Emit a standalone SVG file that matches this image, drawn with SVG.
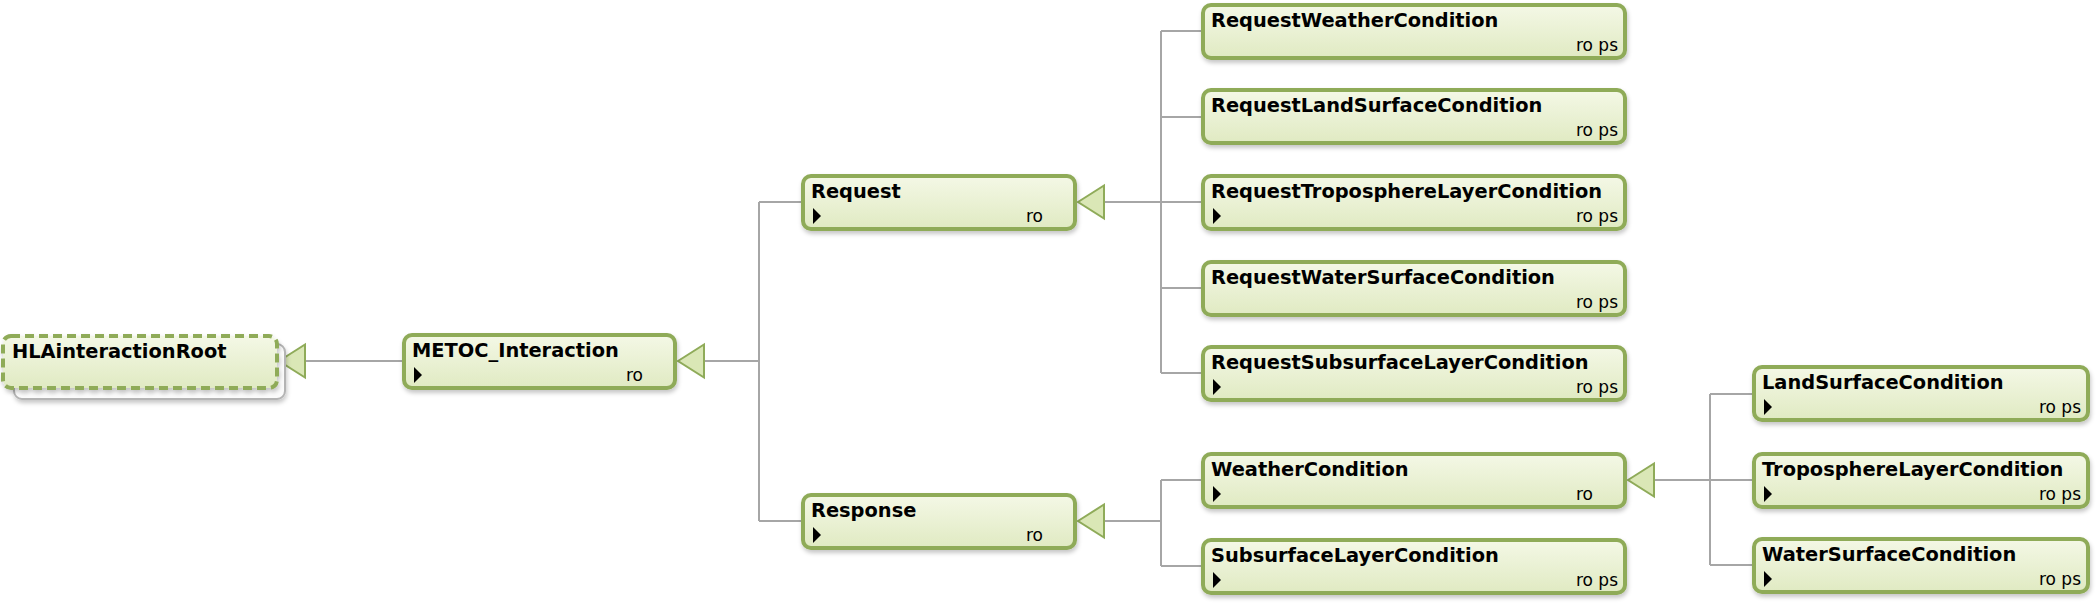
<svg xmlns="http://www.w3.org/2000/svg" width="2100" height="606" viewBox="0 0 2100 606">
<defs>
<linearGradient id="g" x1="0" y1="0" x2="0" y2="1">
<stop offset="0" stop-color="#f4f8e6"/>
<stop offset="1" stop-color="#e0eac2"/>
</linearGradient>
<filter id="sh" x="-5%" y="-20%" width="110%" height="150%">
<feDropShadow dx="1" dy="3" stdDeviation="2" flood-color="#000" flood-opacity="0.22"/>
</filter>
</defs>
<style>
.box{fill:url(#g);stroke:#8fab59;stroke-width:4;filter:url(#sh)}
.dash{stroke-dasharray:9 5}
.back{fill:#fbfbfb;stroke:#b4b4b4;stroke-width:2;filter:url(#sh)}
.name{font-family:"DejaVu Sans",Verdana,sans-serif;font-weight:bold;font-size:19.4px;fill:#000}
.tag{font-family:"DejaVu Sans",Verdana,sans-serif;font-size:17px;fill:#000;text-anchor:end}
.icon{fill:#000}
.con{fill:none;stroke:#a6a6a6;stroke-width:2}
.tri{fill:#dae7b6;stroke:#8fab59;stroke-width:2}
</style>
<rect width="2100" height="606" fill="#fff"/>

<g id="connectors">
<path class="con" d="M306,361 H402"/>
<path class="con" d="M704,361 H759 M759,202 V521 M759,202 H801 M759,521 H801"/>
<path class="con" d="M1104,202 H1161 M1161,31 V373 M1161,31 H1201 M1161,117 H1201 M1161,202 H1201 M1161,288 H1201 M1161,373 H1201"/>
<path class="con" d="M1104,521 H1161 M1161,480 V566 M1161,480 H1201 M1161,566 H1201"/>
<path class="con" d="M1654,480 H1710 M1710,394 V565 M1710,394 H1752 M1710,480 H1752 M1710,565 H1752"/>
<polygon class="tri" points="279,361 305,344.5 305,377.5"/>
<polygon class="tri" points="678,361 704,344.5 704,377.5"/>
<polygon class="tri" points="1078,202 1104,185.5 1104,218.5"/>
<polygon class="tri" points="1078,521 1104,504.5 1104,537.5"/>
<polygon class="tri" points="1628,480 1654,463.5 1654,496.5"/>
</g>

<g id="HLAinteractionRoot">
<rect class="back" x="14" y="344" width="271" height="55" rx="8"/>
<rect class="box dash" x="3" y="336" width="274" height="52" rx="8"/>
<text class="name" x="12" y="358">HLAinteractionRoot</text>
</g>

<g id="METOC_Interaction">
<rect class="box" x="404" y="335" width="271" height="53" rx="8"/>
<text class="name" x="412" y="357">METOC_Interaction</text>
<polygon class="icon" points="414,367 422,375 414,383"/>
<text class="tag" x="643" y="381">ro</text>
</g>

<g id="Request">
<rect class="box" x="803" y="176" width="272" height="53" rx="8"/>
<text class="name" x="811" y="198">Request</text>
<polygon class="icon" points="813,208 821,216 813,224"/>
<text class="tag" x="1043" y="222">ro</text>
</g>

<g id="Response">
<rect class="box" x="803" y="495" width="272" height="53" rx="8"/>
<text class="name" x="811" y="517">Response</text>
<polygon class="icon" points="813,527 821,535 813,543"/>
<text class="tag" x="1043" y="541">ro</text>
</g>

<g id="RequestWeatherCondition">
<rect class="box" x="1203" y="5" width="422" height="53" rx="8"/>
<text class="name" x="1211" y="27">RequestWeatherCondition</text>
<text class="tag" x="1618" y="51">ro ps</text>
</g>

<g id="RequestLandSurfaceCondition">
<rect class="box" x="1203" y="90" width="422" height="53" rx="8"/>
<text class="name" x="1211" y="112">RequestLandSurfaceCondition</text>
<text class="tag" x="1618" y="136">ro ps</text>
</g>

<g id="RequestTroposphereLayerCondition">
<rect class="box" x="1203" y="176" width="422" height="53" rx="8"/>
<text class="name" x="1211" y="198">RequestTroposphereLayerCondition</text>
<polygon class="icon" points="1213,208 1221,216 1213,224"/>
<text class="tag" x="1618" y="222">ro ps</text>
</g>

<g id="RequestWaterSurfaceCondition">
<rect class="box" x="1203" y="262" width="422" height="53" rx="8"/>
<text class="name" x="1211" y="284">RequestWaterSurfaceCondition</text>
<text class="tag" x="1618" y="308">ro ps</text>
</g>

<g id="RequestSubsurfaceLayerCondition">
<rect class="box" x="1203" y="347" width="422" height="53" rx="8"/>
<text class="name" x="1211" y="369">RequestSubsurfaceLayerCondition</text>
<polygon class="icon" points="1213,379 1221,387 1213,395"/>
<text class="tag" x="1618" y="393">ro ps</text>
</g>

<g id="WeatherCondition">
<rect class="box" x="1203" y="454" width="422" height="53" rx="8"/>
<text class="name" x="1211" y="476">WeatherCondition</text>
<polygon class="icon" points="1213,486 1221,494 1213,502"/>
<text class="tag" x="1593" y="500">ro</text>
</g>

<g id="SubsurfaceLayerCondition">
<rect class="box" x="1203" y="540" width="422" height="53" rx="8"/>
<text class="name" x="1211" y="562">SubsurfaceLayerCondition</text>
<polygon class="icon" points="1213,572 1221,580 1213,588"/>
<text class="tag" x="1618" y="586">ro ps</text>
</g>

<g id="LandSurfaceCondition">
<rect class="box" x="1754" y="367" width="334" height="53" rx="8"/>
<text class="name" x="1762" y="389">LandSurfaceCondition</text>
<polygon class="icon" points="1764,399 1772,407 1764,415"/>
<text class="tag" x="2081" y="413">ro ps</text>
</g>

<g id="TroposphereLayerCondition">
<rect class="box" x="1754" y="454" width="334" height="53" rx="8"/>
<text class="name" x="1762" y="476">TroposphereLayerCondition</text>
<polygon class="icon" points="1764,486 1772,494 1764,502"/>
<text class="tag" x="2081" y="500">ro ps</text>
</g>

<g id="WaterSurfaceCondition">
<rect class="box" x="1754" y="539" width="334" height="53" rx="8"/>
<text class="name" x="1762" y="561">WaterSurfaceCondition</text>
<polygon class="icon" points="1764,571 1772,579 1764,587"/>
<text class="tag" x="2081" y="585">ro ps</text>
</g>
</svg>
